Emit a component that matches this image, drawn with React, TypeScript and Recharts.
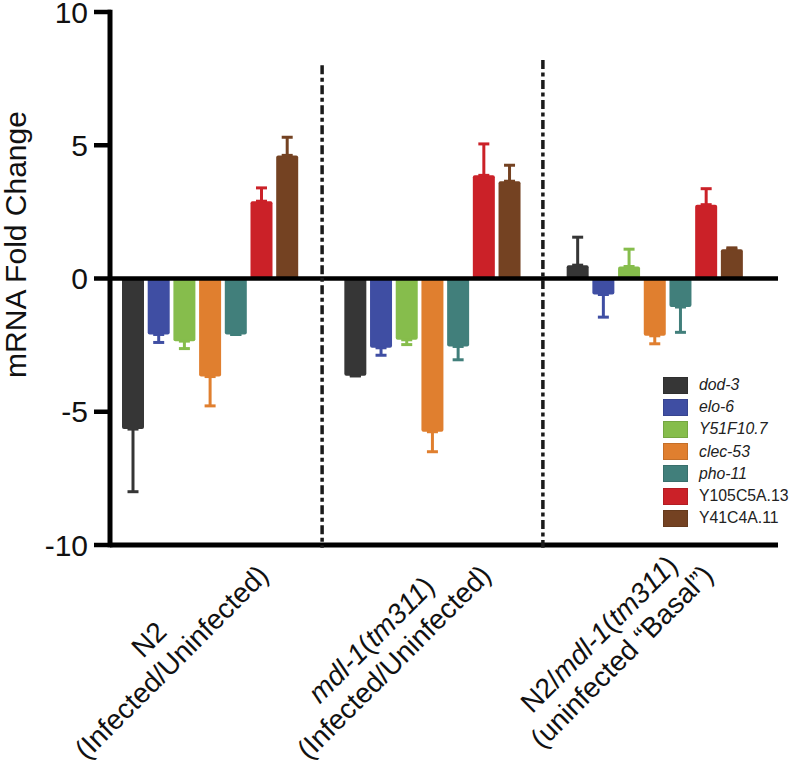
import React from 'react';
import {
  BarChart,
  Bar,
  XAxis,
  YAxis,
  ErrorBar,
  ReferenceLine,
  Legend,
} from 'recharts';

const FONT = '"Liberation Sans", Arial, Helvetica, sans-serif';

// groups along the x axis
const groups = ['N2', 'mdl-1', 'N2/mdl-1'];

// x tick labels, two lines each, as [text, italic] segments
const labelTop: [string, boolean][][] = [
  [['N2', false]],
  [['mdl-1', true], ['(', false], ['tm311', true], [')', false]],
  [['N2/', false], ['mdl-1', true], ['(', false], ['tm311', true], [')', false]],
];
const labelBottom: [string, boolean][][] = [
  [['(Infected/Uninfected)', false]],
  [['(Infected/Uninfected)', false]],
  [['(uninfected \u201cBasal\u201d)', false]],
];

const genes = ['dod-3', 'elo-6', 'Y51F10.7', 'clec-53', 'pho-11', 'Y105C5A.13', 'Y41C4A.11'];
const geneItalic = [true, true, true, true, true, false, false];
const geneColors = ['#363636', '#3f4ea3', '#86bd4c', '#e07f2f', '#417f7b', '#cb2128', '#744222'];

// mRNA fold change per gene, one value per group
const dod3 = [-5.65, -3.65, 0.5];
const elo6 = [-2.1, -2.6, -0.6];
const y51f10 = [-2.35, -2.3, 0.45];
const clec53 = [-3.68, -5.75, -2.15];
const pho11 = [-2.1, -2.55, -1.07];
const y105c5a = [2.9, 3.87, 2.77];
const y41c4a = [4.62, 3.65, 1.1];

// error (one-sided, away from zero)
const dod3Err = [2.35, 0, 1.05];
const elo6Err = [0.3, 0.28, 0.85];
const y51f10Err = [0.28, 0.18, 0.65];
const clec53Err = [1.1, 0.75, 0.3];
const pho11Err = [0, 0.5, 0.95];
const y105c5aErr = [0.5, 1.18, 0.6];
const y41c4aErr = [0.68, 0.6, 0.05];

const values = [dod3, elo6, y51f10, clec53, pho11, y105c5a, y41c4a];
const errors = [dod3Err, elo6Err, y51f10Err, clec53Err, pho11Err, y105c5aErr, y41c4aErr];

const yTicks = [-10, -5, 0, 5, 10];

const data = groups.map((g, gi) => {
  const row: any = { group: g, pos: gi };
  genes.forEach((gene, i) => {
    const v = values[i][gi];
    const e = errors[i][gi];
    row[gene] = v;
    row[gene + '_err'] = v < 0 ? [e, 0] : [0, e];
  });
  return row;
});

// layout helpers on the hidden numeric axis (0..2 spans the plot width)
const AXIS_X = 0.033;
const SEP_1 = 0.669;
const SEP_2 = 1.331;
const LINE_END = 2.036;

let ctx: CanvasRenderingContext2D | null = null;
const lineWidth = (segs: [string, boolean][]) => {
  if (!ctx) ctx = document.createElement('canvas').getContext('2d');
  if (!ctx) return 0;
  let w = 0;
  segs.forEach(([t, it]) => {
    ctx!.font = `${it ? 'italic ' : ''}28px ${FONT}`;
    w += ctx!.measureText(t).width;
  });
  return w;
};

const renderSegs = (segs: [string, boolean][]) =>
  segs.map(([t, it], k) => (
    <tspan key={k} fontStyle={it ? 'italic' : 'normal'}>
      {t}
    </tspan>
  ));

const XTick = ({ x, y, payload }: any) => {
  const i = groups.indexOf(payload.value);
  const top = labelTop[i];
  const bottom = labelBottom[i];
  const maxW = Math.max(lineWidth(top), lineWidth(bottom));
  const cx = -maxW / 2;
  return (
    <g transform={`translate(${x + 60},${y + 32}) rotate(-45)`}>
      <text textAnchor="middle" fontSize={28} fill="#111" fontFamily={FONT}>
        <tspan x={cx} y={-32}>
          {renderSegs(top)}
        </tspan>
        <tspan x={cx} y={0}>
          {renderSegs(bottom)}
        </tspan>
      </text>
    </g>
  );
};

const YTick = ({ x, y, payload }: any) => (
  <g>
    <line x1={x - 5} x2={x + 12} y1={y} y2={y} stroke="#000" strokeWidth={4.5} />
    <text
      x={x - 11}
      y={y + 10.5}
      textAnchor="end"
      fontSize={30}
      fill="#111"
      fontFamily={FONT}
    >
      {payload.value}
    </text>
  </g>
);

const YAxisTitle = ({ viewBox }: any) => {
  const cx = viewBox.x + 26;
  const cy = viewBox.y + viewBox.height / 2 - 34;
  return (
    <text
      x={cx}
      y={cy}
      transform={`rotate(-90 ${cx} ${cy})`}
      textAnchor="middle"
      fontSize={30}
      fill="#111"
      fontFamily={FONT}
    >
      mRNA Fold Change
    </text>
  );
};

const renderLegend = ({ payload }: any) => {
  const items = [...(payload || [])].sort(
    (a: any, b: any) => genes.indexOf(a.value) - genes.indexOf(b.value)
  );
  return (
    <div style={{ fontFamily: FONT }}>
      {items.map((item: any) => {
        const i = genes.indexOf(item.value);
        return (
          <div
            key={item.value}
            style={{ display: 'flex', alignItems: 'center', height: 22.2, whiteSpace: 'nowrap' }}
          >
            <span
              style={{
                display: 'inline-block',
                width: 25,
                height: 17,
                background: item.color,
                border: '1px solid rgba(0,0,0,0.12)',
                boxSizing: 'border-box',
                marginRight: 11,
                flex: 'none',
              }}
            />
            <span
              style={{
                fontSize: 15.8,
                color: '#222',
                fontStyle: geneItalic[i] ? 'italic' : 'normal',
              }}
            >
              {item.value}
            </span>
          </div>
        );
      })}
    </div>
  );
};

export default function App() {
  return (
    <div style={{ position: 'absolute', left: 0, top: 0, background: '#fff' }}>
      <BarChart
        width={789}
        height={769}
        data={data}
        margin={{ top: 12, right: 23, left: 0, bottom: 0 }}
        barCategoryGap={23}
        barGap={3.7}
      >
        <XAxis
          xAxisId="cat"
          dataKey="group"
          axisLine={false}
          tickLine={false}
          tickSize={0}
          tickMargin={0}
          height={224}
          interval={0}
          tick={<XTick />}
        />
        <XAxis
          xAxisId="num"
          dataKey="pos"
          type="number"
          domain={[0, 2]}
          allowDataOverflow
          hide
          height={0}
        />
        <YAxis
          width={99}
          domain={[-10, 10]}
          ticks={yTicks}
          allowDataOverflow
          axisLine={false}
          tickLine={false}
          tickSize={0}
          tickMargin={0}
          interval={0}
          tick={<YTick />}
          label={<YAxisTitle />}
        />
        {genes.map((gene, i) => (
          <Bar
            key={gene}
            xAxisId="cat"
            dataKey={gene}
            name={gene}
            fill={geneColors[i]}
            radius={2}
            isAnimationActive={false}
          >
            <ErrorBar
              dataKey={gene + '_err'}
              direction="y"
              width={5.5}
              strokeWidth={3}
              stroke={geneColors[i]}
              isAnimationActive={false}
            />
          </Bar>
        ))}
        <ReferenceLine
          xAxisId="num"
          segment={[{ x: AXIS_X, y: 0 }, { x: LINE_END, y: 0 }]}
          stroke="#000"
          strokeWidth={4.5}
          ifOverflow="visible"
        />
        <ReferenceLine
          xAxisId="num"
          segment={[{ x: AXIS_X, y: -10 }, { x: LINE_END, y: -10 }]}
          stroke="#000"
          strokeWidth={5}
          ifOverflow="visible"
        />
        <ReferenceLine
          xAxisId="num"
          segment={[{ x: AXIS_X, y: 10.08 }, { x: AXIS_X, y: -10.08 }]}
          stroke="#000"
          strokeWidth={5}
          ifOverflow="visible"
        />
        <ReferenceLine
          xAxisId="num"
          segment={[{ x: SEP_1, y: 8.0 }, { x: SEP_1, y: -10.1 }]}
          stroke="#1a1a1a"
          strokeWidth={3.5}
          strokeDasharray="9 3.5 4 3.5"
          ifOverflow="visible"
        />
        <ReferenceLine
          xAxisId="num"
          segment={[{ x: SEP_2, y: 8.2 }, { x: SEP_2, y: -10.1 }]}
          stroke="#1a1a1a"
          strokeWidth={3.5}
          strokeDasharray="9 3.5 4 3.5"
          ifOverflow="visible"
        />
        <Legend
          layout="vertical"
          align="center"
          verticalAlign="middle"
          wrapperStyle={{ position: 'absolute', left: 663, top: 374, width: 124, height: 'auto' }}
          content={renderLegend}
        />
      </BarChart>
    </div>
  );
}
